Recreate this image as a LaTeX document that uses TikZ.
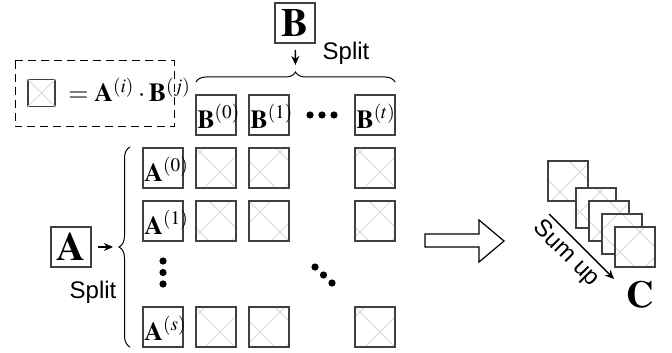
\documentclass[tikz,border=0pt]{standalone}
\usepackage{mathptmx}
\usepackage{fontspec}
\setmainfont{Liberation Serif}
\setsansfont{Liberation Sans}
\usepackage{tikz}
\usetikzlibrary{arrows.meta}
\usetikzlibrary{patterns.meta}
\usetikzlibrary{decorations.pathreplacing}

\tikzset{
  blk/.style={draw=black!75, line width=0.9pt, minimum size=20pt, inner sep=0pt},
  cell/.style={blk, pattern={Hatch[angle=45,distance=14.14pt,line width=0.5pt]},
    pattern color=black!14},
  lbl/.style={inner sep=0pt, anchor=base west, font=\fontsize{13}{15}\selectfont},
  big/.style={blk, font=\fontsize{20}{22}\selectfont},
  splittext/.style={font=\sffamily\fontsize{12}{14}\selectfont},
  dot/.style={circle, fill=black, inner sep=0pt, minimum size=3.6pt},
  arr/.style={line width=0.7pt, -{Stealth[length=4.5pt,width=4pt]}},
  brc/.style={line width=0.5pt, decorate, decoration={brace, amplitude=#1}},
}

\begin{document}
\begin{tikzpicture}[x=0.5pt, y=-0.5pt]
  \useasboundingbox (0,0) rectangle (672,352);

  % legend
  \draw[line width=0.5pt, dash pattern=on 4pt off 2.5pt] (15,61) rectangle (174,127);
  \node[blk, minimum size=13.5pt] (key) at (41.5,93) {};
  \draw[black!14, line width=0.5pt] (key.north west) -- (key.south east);
  \draw[black!14, line width=0.5pt] (key.north east) -- (key.south west);
  \node[lbl] (keytext) at (68,102) {$=\mathbf{A}^{(i)}\cdot\mathbf{B}^{(j)}$};

  % matrix B and its split
  \node[big] (bigB) at (295,23) {$\mathbf{B}$};
  \coordinate (bsplit) at (295.5,72);
  \draw[arr, shorten <=3pt, shorten >=3.5pt] (bigB) -- (bsplit);
  \node[splittext] (splitB) at (346,53) {Split};
  \draw[brc=5pt] (196,82) -- (395,82);

  \node[blk] (b0) at (216,115) {};
  \node[lbl] (lb0) at (197,128) {$\mathbf{B}^{(0)}$};
  \node[blk] (b1) at (269,115) {};
  \node[lbl] (lb1) at (250,128) {$\mathbf{B}^{(1)}$};
  \node[dot] (hd1) at (310,115) {};
  \node[dot] (hd2) at (322,115) {};
  \node[dot] (hd3) at (334,115) {};
  \node[blk] (bt) at (375,115) {};
  \node[lbl] (lbt) at (356,128) {$\mathbf{B}^{(t)}$};

  % matrix A and its split
  \node[big] (bigA) at (71,247) {$\mathbf{A}$};
  \coordinate (asplit) at (118,247);
  \draw[arr, shorten <=3pt, shorten >=2.5pt] (bigA) -- (asplit);
  \node[splittext] (splitA) at (93,292) {Split};
  \draw[brc=5.5pt] (130,347) -- (130,147);

  \node[blk] (a0) at (163,168) {};
  \node[lbl] (la0) at (144,181) {$\mathbf{A}^{(0)}$};
  \node[blk] (a1) at (163,221) {};
  \node[lbl] (la1) at (144,234) {$\mathbf{A}^{(1)}$};
  \node[dot] (vd1) at (163,261) {};
  \node[dot] (vd2) at (163,272.5) {};
  \node[dot] (vd3) at (163,284) {};
  \node[blk] (as) at (163,327) {};
  \node[lbl] (las) at (144,340) {$\mathbf{A}^{(s)}$};

  % products
  \node[cell] (c00) at (216,168) {};
  \node[cell] (c01) at (269,168) {};
  \node[cell] (c0t) at (375,168) {};
  \node[cell] (c10) at (216,221) {};
  \node[cell] (c11) at (269,221) {};
  \node[cell] (c1t) at (375,221) {};
  \node[dot] (dd1) at (315,267) {};
  \node[dot] (dd2) at (323.5,275) {};
  \node[dot] (dd3) at (332,283) {};
  \node[cell] (cs0) at (216,327) {};
  \node[cell] (cs1) at (269,327) {};
  \node[cell] (cst) at (375,327) {};

  % hollow arrow
  \draw[line width=0.6pt] (425,234) -- (479,234) -- (479,220) -- (504,241)
    -- (479,262) -- (479,247) -- (425,247) -- cycle;

  % summed stack C
  \node[cell, preaction={fill=white}] (s1) at (568,181) {};
  \node[cell, preaction={fill=white}] (s2) at (596,208) {};
  \node[cell, preaction={fill=white}] (s3) at (609,221) {};
  \node[cell, preaction={fill=white}] (s4) at (622,234) {};
  \node[cell, preaction={fill=white}] (s5) at (635,247) {};
  \coordinate (sumfrom) at (549,214);
  \coordinate (sumto) at (614,279);
  \draw[arr] (sumfrom) -- (sumto);
  \node[splittext, rotate=-45, inner sep=0pt] (sumup) at (566,254) {Sum up};
  \node[font=\fontsize{19}{21}\selectfont] (C) at (640,295) {$\mathbf{C}$};
\end{tikzpicture}
\end{document}
